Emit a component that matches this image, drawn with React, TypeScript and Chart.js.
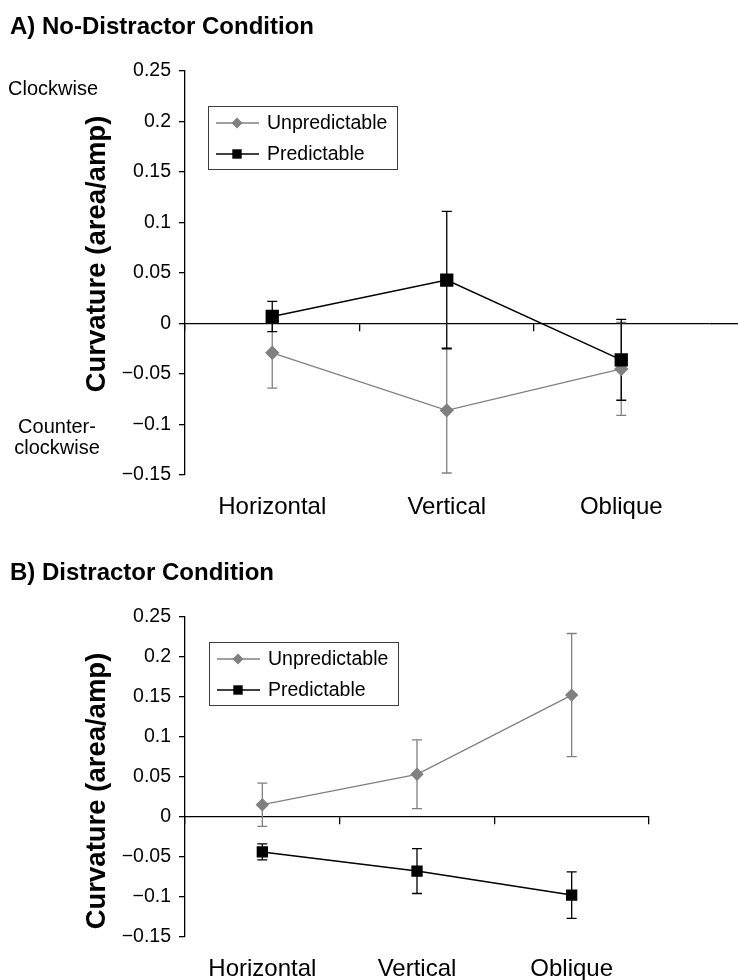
import React, { useEffect, useRef } from "react";
import { Chart, registerables } from "chart.js";

Chart.register(...registerables);

// ---------- data ----------
const categories = ["Horizontal", "Vertical", "Oblique"];
const seriesNames = ["Unpredictable", "Predictable"];
const yMin = -0.15;
const yMax = 0.25;
const yStep = 0.05;

// Panel A: No-Distractor Condition
const aUnpredictable = [-0.029, -0.086, -0.045];
const aUnpredictableErr = [0.035, 0.062, 0.046];
const aPredictable = [0.007, 0.043, -0.036];
const aPredictableErr = [0.015, 0.068, 0.04];

// Panel B: Distractor Condition
const bUnpredictable = [0.015, 0.053, 0.152];
const bUnpredictableErr = [0.027, 0.043, 0.077];
const bPredictable = [-0.044, -0.068, -0.098];
const bPredictableErr = [0.01, 0.028, 0.029];

const GRAY = "#808080";
const BLACK = "#000000";
const FONT = '"Liberation Sans", Arial, Helvetica, sans-serif';
const AXIS_W = 1.3;

function fmtTick(v: number) {
  const s = parseFloat(Number(v).toFixed(2)).toString();
  return s.replace("-", "\u2212");
}

const errorBarPlugin = {
  id: "errorBars",
  beforeDatasetsDraw(chart: any) {
    const { ctx } = chart;
    const y = chart.scales.y;
    const metas = chart.getSortedVisibleDatasetMetas();
    for (let k = metas.length - 1; k >= 0; k--) {
      const meta = metas[k];
      const ds: any = chart.data.datasets[meta.index];
      const errs: number[] = ds.errors || [];
      ctx.save();
      ctx.strokeStyle = ds.borderColor;
      ctx.lineWidth = 1.3;
      meta.data.forEach((pt: any, j: number) => {
        const v = ds.data[j];
        const e = errs[j];
        if (e == null) return;
        const yt = y.getPixelForValue(v + e);
        const yb = y.getPixelForValue(v - e);
        const x = pt.x;
        ctx.beginPath();
        ctx.moveTo(x, yt);
        ctx.lineTo(x, yb);
        ctx.moveTo(x - 5, yt);
        ctx.lineTo(x + 5, yt);
        ctx.moveTo(x - 5, yb);
        ctx.lineTo(x + 5, yb);
        ctx.stroke();
      });
      ctx.restore();
    }
  },
};

const boxLegendPlugin = {
  id: "boxLegend",
  afterDatasetsDraw(chart: any, _args: any, opts: any) {
    if (!opts || !opts.enabled) return;
    const { ctx, chartArea } = chart;
    const x0 = Math.round(chartArea.left + opts.dx);
    const y0 = Math.round(chartArea.top + opts.dy);
    ctx.save();
    ctx.fillStyle = "#ffffff";
    ctx.fillRect(x0, y0, opts.w, opts.h);
    ctx.strokeStyle = "#3a3a3a";
    ctx.lineWidth = 1;
    ctx.strokeRect(x0 + 0.5, y0 + 0.5, opts.w, opts.h);
    chart.data.datasets.forEach((ds: any, i: number) => {
      const cy = y0 + opts.rowTop + i * opts.rowGap;
      ctx.strokeStyle = ds.borderColor;
      ctx.lineWidth = ds.borderWidth;
      ctx.beginPath();
      ctx.moveTo(x0 + 8, cy);
      ctx.lineTo(x0 + 51, cy);
      ctx.stroke();
      const mx = x0 + 29;
      ctx.fillStyle = ds.pointBackgroundColor;
      ctx.beginPath();
      if (ds.pointStyle === "rectRot") {
        const r = 5.5;
        ctx.moveTo(mx - r, cy);
        ctx.lineTo(mx, cy - r);
        ctx.lineTo(mx + r, cy);
        ctx.lineTo(mx, cy + r);
        ctx.closePath();
      } else {
        const s = 4.7;
        ctx.rect(mx - s, cy - s, 2 * s, 2 * s);
      }
      ctx.fill();
      ctx.fillStyle = "#000";
      ctx.font = `19.5px ${FONT}`;
      ctx.textBaseline = "middle";
      ctx.textAlign = "left";
      ctx.fillText(ds.label, x0 + 59, cy + 1);
    });
    ctx.restore();
  },
};

const zeroExtendPlugin = {
  id: "zeroExtend",
  afterDraw(chart: any, _args: any, opts: any) {
    if (!opts || !opts.enabled) return;
    const { ctx, chartArea } = chart;
    const half = AXIS_W / 2;
    const pix = chart.scales.y.getPixelForValue(0);
    const y = Math.round(pix - half) + half;
    const xStart = Math.round(chartArea.right - half) + AXIS_W;
    ctx.save();
    ctx.strokeStyle = BLACK;
    ctx.lineWidth = AXIS_W;
    ctx.beginPath();
    ctx.moveTo(xStart, y);
    ctx.lineTo(chart.width, y);
    ctx.stroke();
    ctx.restore();
  },
};

type PanelProps = {
  width: number;
  height: number;
  padTop: number;
  padRight: number;
  xAxisHeight: number;
  unpred: number[];
  unpredErr: number[];
  pred: number[];
  predErr: number[];
  squareRadius: number;
  diamondRadius: number;
  extendZero: boolean;
  legendDx: number;
  legendDy: number;
};

function Panel(p: PanelProps) {
  const ref = useRef<HTMLCanvasElement | null>(null);
  useEffect(() => {
    if (!ref.current) return;
    const chart = new Chart(ref.current, {
      type: "line",
      data: {
        labels: categories,
        datasets: [
          {
            label: seriesNames[0],
            data: p.unpred,
            errors: p.unpredErr,
            borderColor: GRAY,
            backgroundColor: GRAY,
            borderWidth: 1.3,
            pointStyle: "rectRot",
            pointRadius: p.diamondRadius,
            pointHoverRadius: p.diamondRadius,
            pointBackgroundColor: GRAY,
            pointBorderColor: GRAY,
            pointBorderWidth: 0,
            tension: 0,
            fill: false,
            order: 2,
          } as any,
          {
            label: seriesNames[1],
            data: p.pred,
            errors: p.predErr,
            borderColor: BLACK,
            backgroundColor: BLACK,
            borderWidth: 1.5,
            pointStyle: "rect",
            pointRadius: p.squareRadius,
            pointHoverRadius: p.squareRadius,
            pointBackgroundColor: BLACK,
            pointBorderColor: BLACK,
            pointBorderWidth: 0,
            tension: 0,
            fill: false,
            order: 1,
          } as any,
        ],
      },
      options: {
        responsive: false,
        animation: false,
        events: [],
        layout: {
          padding: { left: 0, top: p.padTop, right: p.padRight, bottom: 0 },
        },
        plugins: {
          legend: { display: false },
          tooltip: { enabled: false },
          title: { display: false },
          boxLegend: {
            enabled: true,
            dx: p.legendDx,
            dy: p.legendDy,
            w: 189,
            h: 63,
            rowTop: 17,
            rowGap: 31,
          },
          zeroExtend: { enabled: p.extendZero },
        } as any,
        scales: {
          x: {
            type: "category",
            position: "bottom",
            offset: true,
            grid: { display: false, drawTicks: false },
            border: { display: false },
            ticks: {
              color: "#000",
              font: { family: FONT, size: 24 },
              padding: 18,
              maxRotation: 0,
              autoSkip: false,
            },
            afterFit(scale: any) {
              scale.height = p.xAxisHeight;
            },
          },
          x2: {
            type: "category",
            axis: "x",
            labels: categories,
            position: { y: 0 },
            offset: true,
            grid: {
              offset: true,
              drawOnChartArea: false,
              drawTicks: true,
              tickLength: 7,
              lineWidth: AXIS_W,
              color: (ctx: any) =>
                p.extendZero && ctx.index === undefined ? "rgba(0,0,0,0)" : BLACK,
            },
            border: { display: true, color: BLACK, width: AXIS_W },
            ticks: { display: false },
          } as any,
          y: {
            type: "linear",
            position: "left",
            min: yMin,
            max: yMax,
            grid: {
              drawOnChartArea: false,
              drawTicks: true,
              tickLength: 6,
              color: BLACK,
              lineWidth: AXIS_W,
            },
            border: { display: true, color: BLACK, width: AXIS_W },
            ticks: {
              stepSize: yStep,
              color: "#000",
              font: { family: FONT, size: 19.5 },
              padding: 8,
              callback: (v: any) => fmtTick(Number(v)),
            },
            afterFit(scale: any) {
              scale.width = 185;
            },
          },
        },
      },
      plugins: [errorBarPlugin, boxLegendPlugin, zeroExtendPlugin],
    } as any);
    return () => chart.destroy();
  }, []);
  return <canvas ref={ref} width={p.width} height={p.height} style={{ display: "block" }} />;
}

const textBase: React.CSSProperties = {
  position: "absolute",
  fontFamily: FONT,
  color: "#000",
  whiteSpace: "nowrap",
  margin: 0,
};

export default function App() {
  return (
    <div
      style={{
        position: "absolute",
        left: 0,
        top: 0,
        width: 738,
        height: 980,
        background: "#fff",
        overflow: "hidden",
        fontFamily: FONT,
      }}
    >
      <div style={{ position: "absolute", left: 0, top: 0 }}>
        <Panel
          width={738}
          height={530}
          padTop={71}
          padRight={29.5}
          xAxisHeight={55}
          unpred={aUnpredictable}
          unpredErr={aUnpredictableErr}
          pred={aPredictable}
          predErr={aPredictableErr}
          squareRadius={9.4}
          diamondRadius={7.2}
          extendZero={true}
          legendDx={23}
          legendDy={35}
        />
      </div>
      <div style={{ position: "absolute", left: 0, top: 530 }}>
        <Panel
          width={738}
          height={450}
          padTop={86.7}
          padRight={89}
          xAxisHeight={43.3}
          unpred={bUnpredictable}
          unpredErr={bUnpredictableErr}
          pred={bPredictable}
          predErr={bPredictableErr}
          squareRadius={8}
          diamondRadius={6.7}
          extendZero={false}
          legendDx={24}
          legendDy={25}
        />
      </div>

      <div style={{ ...textBase, left: 10, top: 14, fontSize: 24, fontWeight: "bold", lineHeight: "24px" }}>
        A) No-Distractor Condition
      </div>
      <div style={{ ...textBase, left: 10, top: 560, fontSize: 24, fontWeight: "bold", lineHeight: "24px" }}>
        B) Distractor Condition
      </div>

      <div style={{ ...textBase, left: 8, top: 78, fontSize: 20, lineHeight: "20px" }}>Clockwise</div>
      <div
        style={{
          ...textBase,
          left: 6,
          width: 102,
          top: 415.5,
          fontSize: 20,
          lineHeight: "21.7px",
          textAlign: "center",
        }}
      >
        Counter-
        <br />
        clockwise
      </div>

      <div
        style={{
          ...textBase,
          left: 96,
          top: 254,
          fontSize: 27.5,
          fontWeight: "bold",
          lineHeight: "27.5px",
          transform: "translate(-50%, -50%) rotate(-90deg)",
        }}
      >
        Curvature (area/amp)
      </div>
      <div
        style={{
          ...textBase,
          left: 96,
          top: 791,
          fontSize: 27.5,
          fontWeight: "bold",
          lineHeight: "27.5px",
          transform: "translate(-50%, -50%) rotate(-90deg)",
        }}
      >
        Curvature (area/amp)
      </div>
    </div>
  );
}
